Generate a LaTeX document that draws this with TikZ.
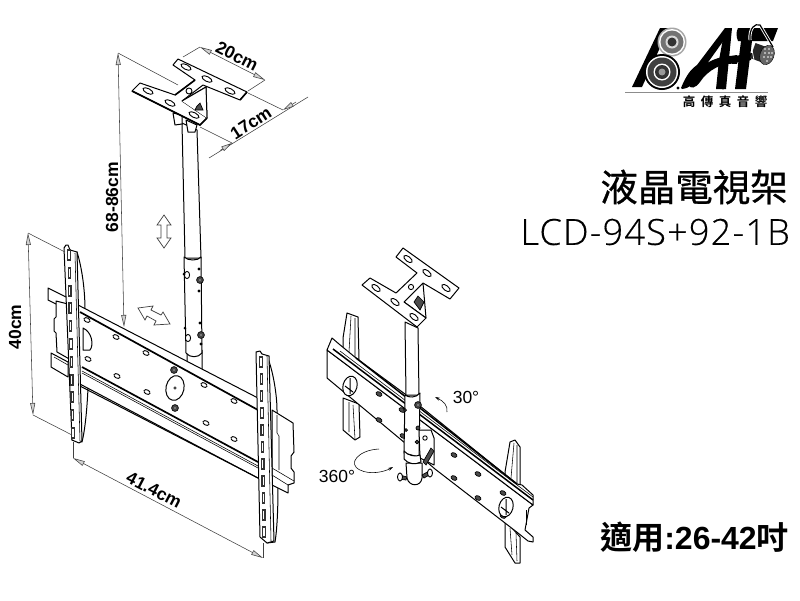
\documentclass[tikz,border=0pt]{standalone}
\usepackage{fontspec}
\setmainfont{Liberation Sans}
\newfontfamily\cjk{Noto Sans CJK TC}
\newfontfamily\cjkfat{Noto Sans CJK TC}[FakeBold=0.7]
\newfontfamily\cjkbold{Noto Sans CJK TC Bold}
\newfontfamily\modelfont{Open Sans Light}[LetterSpace=3.5,FakeBold=0.4]
\newfontfamily\latbold{Liberation Sans Bold}
\usetikzlibrary{arrows.meta,calc}
\tikzset{
 part/.style={draw=black,line width=1pt,fill=white,line join=round},
 lite/.style={draw=black,line width=.55pt},
 dimline/.style={draw=black!75,line width=.55pt},
 dimtip/.style={dimline,{Triangle[open,fill=black!18,width=5pt,length=12pt]}-{Triangle[open,fill=black!18,width=5pt,length=12pt]}},
 dimlabel/.style={font=\bfseries\fontsize{17.5}{17.5}\selectfont,inner sep=0pt},
 degree/.style={font=\fontsize{17.5}{17.5}\selectfont,inner sep=0pt},
 slotfill/.style={draw=black,line width=.9pt,fill=white},
 darkfill/.style={draw=black,line width=.7pt,fill=black!70},
 bigarrow/.style={draw=black!75,line width=.7pt,fill=white,line join=miter},
 logo/.style={fill=black,draw=none},
}
\newcommand{\mslot}[5][slotfill]{\draw[#1] (#2,#3) ellipse[x radius=#4,y radius=2.4,rotate=#5];}
\newcommand{\mhole}[3][slotfill]{\draw[#1] (#2,#3) ellipse[x radius=3.2,y radius=2.1,rotate=-28];}
\newcommand{\mbolt}[2]{\draw[darkfill] (#1,#2) circle[radius=3.4];\draw[fill=white,line width=.4pt] (#1,#2) circle[radius=1.3];}
\newcommand{\barslots}[5]{\foreach \t in {0,...,#5}{\pgfmathsetmacro{\u}{\t/#5}
  \fill[black!80] ($(#1,#2)!\u!(#3,#4)+(-1.8,-6)$) rectangle ($(#1,#2)!\u!(#3,#4)+(1.8,6)$);
  \fill[white] ($(#1,#2)!\u!(#3,#4)+(-.6,-4)$) rectangle ($(#1,#2)!\u!(#3,#4)+(.6,4)$);}}
\begin{document}
\begin{tikzpicture}[x=1pt,y=-1pt]
\useasboundingbox (0,0) rectangle (800,600);
\fill[white] (0,0) rectangle (800,600);
%% ---------- LEFT MOUNT ----------
% upper pole
\draw[part] (182,123) -- (185,258) -- (201,258) -- (197,130) -- cycle;
% telescopic section and lower pole
\draw[part] (187,350) -- (187,362) -- (202,370) -- (202,350) -- cycle;
\draw[part] (184,257) -- (186,353) .. controls (190,358) and (198,358) .. (202,353) -- (201,257) .. controls (198,261) and (188,261) .. (184,257) -- cycle;
\draw[slotfill] (187,275) ellipse[x radius=2.6,y radius=3.6];
\mbolt{200}{280}\mbolt{201}{335}
\draw[slotfill] (188,338) ellipse[x radius=2.6,y radius=3.6];
\fill (199,269) circle[radius=1.7] (199,291) circle[radius=1.7] (200,323) circle[radius=1.7] (201,344) circle[radius=1.7] (185,328) circle[radius=1.5] (184,274) circle[radius=1.5];
% rear flanges of the uprights
\draw[part] (77,252) .. controls (82,268) and (85,290) .. (85,310) -- (85,375) -- (88,388) .. controls (87,410) and (85,430) .. (82,442) -- (72,440) -- cycle;
\draw[part] (267,356) .. controls (273,370) and (277,395) .. (277,410) -- (278,487) .. controls (278,510) and (277,530) .. (275,542) -- (267,543) -- cycle;
% rail stubs and rail ends
\draw[part] (48,288) -- (48,300) -- (68,310) -- (68,298) -- cycle;
\draw[part] (56,301) -- (56,317) -- (54,319) -- (54,331) -- (56,333) -- (57,352) -- (80,365) -- (80,307) -- cycle;
\draw[part] (51,353) -- (51,367) -- (68,377) -- (68,362) -- cycle;
\draw[lite] (54,357) -- (68,365);
\draw[part] (272,410) -- (293,423) -- (294,452) -- (291,456) -- (291,468) -- (294,472) -- (294,483) -- (288,485) -- (288,493) -- (272,485) -- cycle;
\draw[lite] (272,468) -- (294,481) (272,475) -- (288,485);
\draw[lite] (277,415) -- (277,433) -- (279,436) -- (279,470);
% plate
\draw[part] (78,305) -- (258,398) -- (270,404) -- (270,482) -- (258,478) -- (78,383) -- cycle;
\draw[line width=1.7pt] (80,312) -- (258,410);
\draw[line width=1.7pt] (82,367) -- (258,462);
\draw[lite] (82,371) -- (258,466);
\draw[lite] (82,373) -- (258,468);
\draw[line width=1pt] (78,385) -- (258,478);
% holes
\foreach \px/\py in {87/320,116/337,146/353,204/385,234/401,88/359,117/376,147/392,206/423,234/439}{\mhole{\px}{\py}}
\mbolt{174}{370}\mbolt{175}{408}
\draw[part] (175,388) ellipse[x radius=9,y radius=12.5,rotate=-12];
\draw[lite] (175,388) circle[radius=1.3];
\draw[part] (83,328) .. controls (92,332) and (94,345) .. (90,350) -- (83,350) -- cycle;
% uprights
\draw[part] (64,248) -- (66,245) -- (68,245) -- (70,250) -- (77,252) -- (82,441) -- (79,443) -- (72,440) -- cycle;
\barslots{69}{255}{73}{433}{10}
\draw[lite] (75,253) -- (80,441);
\draw[part] (256,352) -- (260,351) -- (262,354) -- (269,356) -- (274,541) -- (267,543) -- (260,537) -- cycle;
\barslots{261}{362}{264}{532}{10}
\draw[lite] (267,356) -- (271,541);
%% top bracket: clips under the plate
\draw[part] (173,113) -- (175,125) -- (182,124) -- (182,115) -- cycle;
\draw[part] (186,120) -- (188,132) -- (195,132) -- (197,125) -- cycle;
\draw[part] (182,101) -- (206,87) -- (207,118) -- cycle;
\draw[part] (178,59) -- (173,65) -- (195,80) -- (175,95) -- (140,83) -- (132,91) -- (200,125) -- (207,118) -- (182,101) -- (203,85) -- (240,100) -- (247,92) -- cycle;
\draw[line width=1.6pt] (195,80) -- (175,95) (132,91) -- (200,125) -- (207,118) (240,100) -- (247,92);
\draw[part] (182,101) -- (206,87) -- (207,118);
\draw[darkfill] (197,106) -- (200,103) -- (203,110) -- (195,110) -- cycle;
\foreach \px/\py in {186/67,207/79,230/91,148/91,170/103,194/115}{\mslot{\px}{\py}{5.5}{-27}}
\draw[slotfill] (189,91) circle[radius=3];
%% dimensions, left mount
\coordinate (w1) at (200,47); \coordinate (w2) at (265,80);
\coordinate (w1a) at (183,57); \coordinate (w2a) at (248,91);
\draw[dimline] (w1a) -- (w1) (w2a) -- (w2);
\draw[dimtip] (w1) -- (w2);
\node[dimlabel,rotate=-27] (lw) at (237,56) {20cm};
\coordinate (d1) at (232,143); \coordinate (d2) at (283,110);
\coordinate (d1a) at (200,127); \coordinate (d2a) at (248,93);
\coordinate (d1o) at (209,158); \coordinate (d2o) at (308,97);
\draw[dimline] (d1o) -- (d2o) (d1a) -- (d1) (d2a) -- (d2);
\draw[dimline,-{Triangle[open,fill=black!18,width=5pt,length=11pt]}] (220,150.5) -- (d1);
\draw[dimline,-{Triangle[open,fill=black!18,width=5pt,length=11pt]}] (296,102) -- (d2);
\node[dimlabel,rotate=33] (ld) at (251,123) {17cm};
\coordinate (h1) at (118,53); \coordinate (h2) at (124,327); \coordinate (h1a) at (178,85);
\draw[dimline] (h1) -- (h1a);
\draw[dimtip] (h1) -- (h2);
\node[dimlabel,rotate=90] (lh) at (112,197) {68-86cm};
\coordinate (t1) at (28,233); \coordinate (t2) at (33,415);
\coordinate (t1a) at (65,252); \coordinate (t2a) at (72,435);
\draw[dimline] (t1) -- (t1a) (t2) -- (t2a);
\draw[dimtip] (t1) -- (t2);
\node[dimlabel,rotate=90] (lt) at (15,327) {40cm};
\coordinate (s1) at (73,458); \coordinate (s2) at (263,558);
\coordinate (s1a) at (73,442); \coordinate (s2a) at (263,543);
\draw[dimline] (s1a) -- (s1) (s2a) -- (s2);
\draw[dimtip] (s1) -- (s2);
\node[dimlabel,rotate=-27.5] (ls) at (154,490) {41.4cm};
% movement arrows
\draw[bigarrow] (164,215) -- (171,225) -- (167,225) -- (167,238) -- (171,238) -- (164,248) -- (157,238) -- (161,238) -- (161,225) -- (157,225) -- cycle;
\draw[bigarrow] (138,308) -- (153,306) -- (151,310) -- (161,315) -- (163,312) -- (170,324) -- (154,325) -- (156,321) -- (147,316) -- (145,320) -- cycle;
%% ---------- RIGHT MOUNT ----------
% uprights behind rail
\draw[part] (347,313) -- (358,317) -- (359,360) -- (343,350) -- (343,338) -- cycle;
\draw[lite] (351,316) -- (349,352) (355,318) -- (355,357);
\draw[part] (343,398) -- (343,430) -- (355,440) -- (360,437) -- (359,404) -- cycle;
\draw[lite] (349,402) -- (349,432) (353,405) -- (355,439);
\draw[part] (510,442) -- (515,440) -- (520,447) -- (520,490) -- (505,480) -- (505,472) -- cycle;
\draw[lite] (514,443) -- (511,478) (517,445) -- (517,487);
\draw[part] (505,520) -- (505,547) -- (510,555) -- (515,563) -- (520,563) -- (520,537) -- cycle;
\draw[lite] (510,528) -- (512,555) (516,533) -- (517,561);
% plate and rail
\draw[part] (327,350) -- (533,505) -- (529,508) -- (525,530) -- (533,537) -- (533,542) -- (528,541) -- (518,533) -- (435,469) -- (405,443) -- (327,378) -- cycle;
\draw[part] (332,338) -- (339,344) -- (356,358) -- (405,394) -- (517,484) -- (522,485) -- (533,495) -- (533,505) -- (327,350) -- cycle;
\draw[line width=1.5pt] (356,358) -- (517,484) (333,349) -- (533,500);
\draw[lite] (340,351) -- (533,497);
\foreach \px/\py in {379/394,402/410,379/420,403/436,454/455,478/474,454/478,478/498,503/493,503/516}{\mhole[darkfill]{\px}{\py}}
\draw[part] (350,386) ellipse[x radius=7,y radius=10,rotate=-15];
\draw[line width=1pt] (350,378) -- (350,394) (345,386) -- (353,392);
\draw[part] (506,507) ellipse[x radius=7,y radius=10,rotate=-15];
\draw[line width=1pt] (506,499) -- (506,515) (501,507) -- (509,513);
\draw[lite] (526,510) -- (526,525);
% T bracket
\draw[part] (404,302) -- (423,283) -- (426,318) -- cycle;
\draw[darkfill] (418,296) -- (424,302) -- (420,310) -- (414,302) -- cycle;
\draw[part] (403,248) -- (396,257) -- (417,273) -- (396,293) -- (370,278) -- (362,285) -- (417,327) -- (426,318) -- (404,302) -- (423,283) -- (450,299) -- (459,288) -- cycle;
\foreach \px/\py in {408/259,427/273,446/288,376/288,395/302,414/317}{\mslot{\px}{\py}{5}{-38}}
\draw[slotfill] (411,287) circle[radius=2.6];
% pole
\draw[part] (405,322) -- (406,395) -- (419,395) -- (418,328) -- cycle;
\draw[part] (405,395) -- (404,453) -- (419,457) -- (420,393) .. controls (416,398) and (409,398) .. (405,395) -- cycle;
\mbolt{418}{405}
\draw[darkfill] (406,430) circle[radius=1.5] (418,428) circle[radius=2] (405,410) circle[radius=1.5] (417,442) circle[radius=1.8];
% swivel clamp
\draw[part] (419,430) -- (431,430) -- (434,438) -- (434,465) -- (420,458) -- cycle;
\draw[slotfill] (425,438) circle[radius=2.2];
\draw[darkfill] (423,462) -- (431,448) -- (434,451) -- (426,465) -- cycle;
\draw[part] (406,463) -- (407,478) .. controls (409,487) and (421,487) .. (422,478) -- (422,463) -- cycle;
\draw[part] (404,451) .. controls (408,456) and (416,457) .. (420,455) -- (421,462) .. controls (415,465) and (408,464) .. (404,459) -- cycle;
\draw[darkfill] (400,475) -- (407,477) -- (406,480) -- (399,479) -- cycle;
\draw[slotfill] (400,477) ellipse[x radius=2.5,y radius=4];
\draw[darkfill] (422,475) -- (429,471) -- (431,474) -- (424,478) -- cycle;
\draw[slotfill] (430,473) ellipse[x radius=2.5,y radius=4];
% rotation marks
\coordinate (r1) at (379,449); \coordinate (r2) at (393,467);
\draw[lite,-{Stealth[length=5pt,width=3pt]}] (r1) .. controls (358,450) and (347,464) .. (360,470) .. controls (370,475) and (384,472) .. (r2);
\coordinate (q1) at (447,412); \coordinate (q2) at (435,397);
\draw[lite,-{Stealth[length=5pt,width=3pt]}] (q1) .. controls (448,405) and (443,401) .. (q2);
\node[degree] (l30) at (466,397) {30°};
\node[degree] (l360) at (337,476) {360°};
%% ---------- TITLES ----------
\node[anchor=east,inner sep=0pt,font=\cjkfat\fontsize{37.5}{37.5}\selectfont] (title) at (788,187) {液晶電視架};
\node[anchor=east,inner sep=0pt,font=\modelfont\fontsize{36}{36}\selectfont] (model) at (790,232) {LCD-94S+92-1B};
\node[anchor=east,inner sep=0pt] (fit) at (789,537) {\fontsize{32}{32}\selectfont\cjkbold 適用\latbold:26-42\cjkbold 吋};
%% ---------- LOGO ----------
\draw[black!45,line width=.8pt] (625,92) -- (768,92);
\node[inner sep=0pt,font=\cjkbold\fontsize{12.5}{12.5}\selectfont] (brand) at (725,102) {高\hspace{5.5pt}傳\hspace{5.5pt}真\hspace{5.5pt}音\hspace{5.5pt}響};
\fill[logo] (660,28) -- (669,28) -- (642,87) -- (632,87) -- cycle;
% speakers
\fill[black!35] (672,42) circle[radius=14.5];
\fill[white] (672,42) circle[radius=13];
\fill[black!55] (672,42) circle[radius=11.5];
\fill[black!15] (672,42) circle[radius=6.5];
\fill[black!80] (672,42) circle[radius=4.5];
\fill[black] (662,72) circle[radius=18];
\fill[white] (662,72) circle[radius=16];
\fill[black!75] (662,72) circle[radius=14.5];
\fill[white] (662,72) circle[radius=8.5];
\fill[black!80] (662,72) circle[radius=7];
\fill[black!40] (662,72) circle[radius=3.5];
% A
\fill[logo] (725,28) -- (732,28) -- (726,89) -- (716,89) -- (719,60) -- cycle;
\fill[logo] (725,28) -- (729,33) -- (699,75) .. controls (694,84) and (690,88) .. (682,89) -- (681,88) .. controls (686,76) and (690,70) .. (697,65) -- cycle;
\fill[logo] (688,84) .. controls (696,72) and (705,58) .. (730,56) -- (737,55) -- (737,64) .. controls (722,62) and (708,70) .. (700,82) .. controls (696,88) and (690,90) .. (688,84) -- cycle;
% F
\fill[logo] (738,28) -- (778,28) -- (773,41) -- (752,41) -- (746,89) -- (735,89) -- (741,41) -- (738,41) .. controls (736,36) and (736,32) .. (738,28) -- cycle;
\fill[logo] (735,56) -- (752,53) -- (751,60) -- (735,63) -- cycle;
\fill[logo] (678,88) circle[radius=1.7] (723,88) circle[radius=1.7];
% spotlight
\draw[white,line width=3pt] (750,40) .. controls (749,28) and (755,23) .. (760,25) -- (773,47);
\draw[black,line width=1.2pt] (750,40) .. controls (749,28) and (755,23) .. (760,25) -- (773,47);
\fill[black!85,rotate around={-20:(765,55)}] (752,47) rectangle (767,63);
\draw[fill=black!60,draw=black,rotate around={-20:(767,55)}] (767,55) ellipse[x radius=7,y radius=10];
\foreach \dx/\dy in {765/49,769/49,765/53,769/53,772/53,764/57,768/57,771/57,767/61}{\fill[white] (\dx,\dy) circle[radius=.9];}
\draw[white,line width=.7pt] (752,50) -- (754,60);
\end{tikzpicture}
\end{document}
